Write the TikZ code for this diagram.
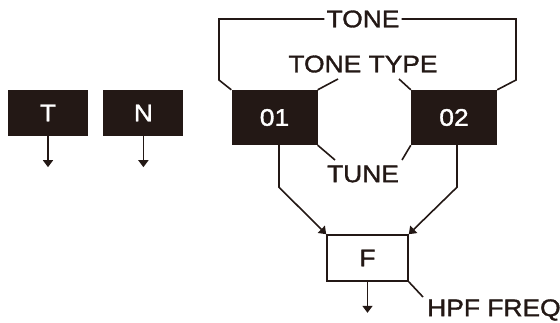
\documentclass[tikz,border=0pt]{standalone}
\usepackage{fontspec}
\usetikzlibrary{arrows.meta,positioning,calc}
\newfontfamily\dgfont[FakeStretch=1.1,FakeBold=1.4]{Liberation Sans}
\definecolor{ink}{HTML}{231815}
\definecolor{paper}{HTML}{FFFFFF}
\newcommand{\LabelSize}{\fontsize{24}{24}\selectfont}
\newcommand{\BarY}{19}
\newcommand{\BendY}{80}
\newcommand{\BarL}{219}
\newcommand{\BarR}{516}
\newcommand{\MidX}{363}
\newcommand{\Drop}{31}

\begin{document}
\begin{tikzpicture}[
    x=1pt, y=-1pt, font=\dgfont\LabelSize, ink,
    flow/.style={-{Triangle[length=7pt,width=10pt]}, line width=1.6pt, draw=ink},
    link/.style={line width=1.6pt, draw=ink},
    part/.style={fill=ink, text=paper, minimum width=80pt, minimum height=46pt, inner sep=0pt},
    osc/.style={part, minimum width=86pt, minimum height=55pt},
    filter/.style={draw=ink, line width=1.6pt, fill=paper, text=ink, minimum width=81pt, minimum height=46pt, inner sep=0pt},
    tag/.style={text=ink, inner sep=2pt},
  ]
\useasboundingbox (0,0) rectangle (560,322);

% --- The two single parts ------------------------------------------------------
\node[part] (T) at (48,113) {T};
\node[part, right=15pt of T] (N) {N};
\draw[flow] (T.south) -- ++(0,\Drop);
\draw[flow] (N.south) -- ++(0,\Drop);

% --- The two oscillators and what they share -----------------------------------
\node[osc] (O1) at (274.5,117.5) {01};
\node[osc] (O2) at (454,117.5) {02};

\node[tag] (tone) at (\MidX,\BarY) {TONE};
\draw[link] (O1.north west) -- (\BarL,\BendY) -- (\BarL,\BarY) -- (tone.west);
\draw[link] (tone.east) -- (\BarR,\BarY) -- (\BarR,\BendY) -- (O2.north east);

\node[tag] (type) at (\MidX,64) {TONE TYPE};
\coordinate (typeL) at (338,79);
\coordinate (typeR) at (399,79);
\draw[link] (typeL) -- (O1.north east);
\draw[link] (typeR) -- (O2.north west);

\node[tag] (tune) at (\MidX,174) {TUNE};
\coordinate (tuneL) at (335,160);
\coordinate (tuneR) at (402,160);
\draw[link] (O1.south east) -- (tuneL);
\draw[link] (O2.south west) -- (tuneR);

% --- Into the filter -------------------------------------------------------------
\node[filter] (F) at (367.5,258) {F};
\draw[flow] ([xshift=4.5pt]O1.south) -- ++(0,42) -- (F.north west);
\draw[flow] ([xshift=3pt]O2.south) -- ++(0,42) -- (F.north east);
\draw[flow] (F.south) -- ++(0,\Drop);

\coordinate (hpfL) at (423,297);
\draw[link] (F.south east) -- (hpfL);
\node[tag, anchor=west] (hpf) at (425,310) {HPF FREQ};

\end{tikzpicture}
\end{document}
